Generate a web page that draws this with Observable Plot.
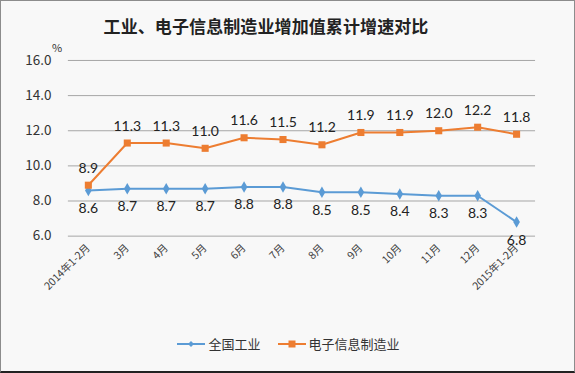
<!DOCTYPE html>
<html>
<head>
<meta charset="utf-8">
<script src="https://cdn.jsdelivr.net/npm/d3@7"></script>
<script src="https://cdn.jsdelivr.net/npm/@observablehq/plot@0.6"></script>
<style>
  html, body { margin: 0; padding: 0; background: #fff; }
  #frame { position: relative; width: 573px; height: 370px; background: #f8f8f8;
           border: 1px solid #8c8c8c; border-bottom: 2px solid #222; overflow: hidden;
           font-family: "Noto Sans CJK SC", sans-serif; }
  #title { position: absolute; left: 0; width: 530px; top: 12px; text-align: center;
           font-size: 17px; font-weight: 700; color: #222; letter-spacing: 0.1px; }
  #unit { position: absolute; left: 51px; top: 38px; font-size: 11px; color: #333; }
  #chart { position: absolute; left: -1px; top: 39px; }
  #legend { position: absolute; top: 333px; left: 0; width: 575px; display: flex;
            justify-content: center; gap: 17px; font-size: 13px; color: #333; }
  .item { display: flex; align-items: center; gap: 3px; }
</style>
</head>
<body>
<div id="frame">
  <div id="title"></div>
  <div id="unit">%</div>
  <div id="chart"></div>
  <div id="legend"></div>
</div>
<script>
const titleText = "工业、电子信息制造业增加值累计增速对比";
const categories = ["2014年1-2月","3月","4月","5月","6月","7月","8月","9月","10月","11月","12月","2015年1-2月"];
const industry = [8.6, 8.7, 8.7, 8.7, 8.8, 8.8, 8.5, 8.5, 8.4, 8.3, 8.3, 6.8];
const electronics = [8.9, 11.3, 11.3, 11.0, 11.6, 11.5, 11.2, 11.9, 11.9, 12.0, 12.2, 11.8];
const seriesNames = ["全国工业", "电子信息制造业"];
const colors = ["#5b9bd5", "#ed7d31"];
const yTicks = [6, 8, 10, 12, 14, 16];

document.getElementById("title").textContent = titleText;

const indData = categories.map((c, i) => ({cat: c, v: industry[i]}));
const elecData = categories.map((c, i) => ({cat: c, v: electronics[i]}));
const fmt = d3.format(".1f");
const labelFont = "Lato, 'Open Sans', sans-serif";

const chart = Plot.plot({
  width: 575,
  height: 290,
  marginTop: 20,
  marginBottom: 94,
  marginLeft: 68,
  marginRight: 39,
  style: {background: "transparent", color: "#333"},
  x: {type: "point", domain: categories, padding: 0.5},
  y: {domain: [6, 16]},
  marks: [
    Plot.gridY(yTicks, {stroke: "#a6a6a6", strokeOpacity: 1, strokeWidth: 1}),
    Plot.axisY(yTicks, {tickSize: 0, tickPadding: 17, tickFormat: fmt, fontSize: 13.5,
      fontFamily: "'Noto Sans CJK SC', sans-serif", label: null}),
    Plot.axisX({tickSize: 0, tickPadding: 10, tickRotate: -45, fontSize: 10.5, label: null,
      fill: "#404040", fontFamily: "'Noto Sans CJK SC', sans-serif"}),
    Plot.line(indData, {x: "cat", y: "v", stroke: colors[0], strokeWidth: 2}),
    Plot.line(elecData, {x: "cat", y: "v", stroke: colors[1], strokeWidth: 2}),
    Plot.dot(indData, {x: "cat", y: "v", symbol: "diamond", r: 3.5, fill: colors[0], stroke: null}),
    Plot.dot(elecData, {x: "cat", y: "v", symbol: "square", r: 4, fill: colors[1], stroke: null}),
    Plot.text(indData, {x: "cat", y: "v", text: d => fmt(d.v), dy: 18, fontSize: 14, fill: "#222", fontFamily: labelFont}),
    Plot.text(elecData, {x: "cat", y: "v", text: d => fmt(d.v), dy: -17, fontSize: 14, fill: "#222", fontFamily: labelFont})
  ]
});
document.getElementById("chart").appendChild(chart);

const legend = document.getElementById("legend");
const symbols = ["diamond", "square"];
seriesNames.forEach((name, i) => {
  const item = document.createElement("div");
  item.className = "item";
  const svg = d3.create("svg").attr("width", 28).attr("height", 10);
  svg.append("line").attr("x1", 0).attr("x2", 28).attr("y1", 5).attr("y2", 5)
    .attr("stroke", colors[i]).attr("stroke-width", 2);
  if (symbols[i] === "diamond") {
    svg.append("path").attr("d", "M14,2 L17,5 L14,8 L11,5 Z").attr("fill", colors[i]);
  } else {
    svg.append("rect").attr("x", 10.5).attr("y", 1.5).attr("width", 7).attr("height", 7).attr("fill", colors[i]);
  }
  item.appendChild(svg.node());
  const span = document.createElement("span");
  span.textContent = name;
  item.appendChild(span);
  legend.appendChild(item);
});
</script>
</body>
</html>
